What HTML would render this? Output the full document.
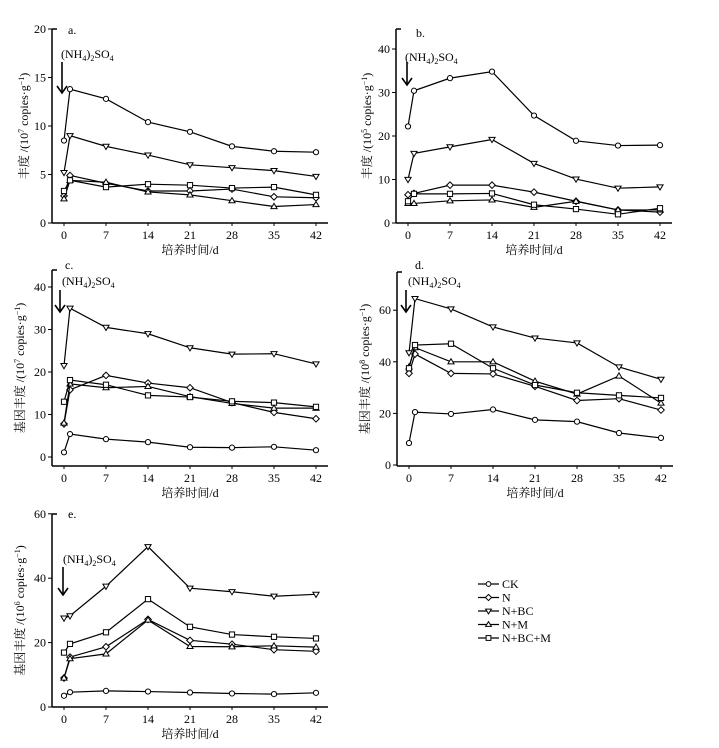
<!DOCTYPE html>
<html><head><meta charset="utf-8">
<style>
html,body{margin:0;padding:0;background:#fff;}
svg{display:block;font-family:"Liberation Serif","Noto Serif CJK SC",serif;}
</style></head>
<body>
<svg id="chart" width="719" height="748" viewBox="0 0 719 748" xmlns="http://www.w3.org/2000/svg"></svg>
<script>
const days = [0, 1, 7, 14, 21, 28, 35, 42];
const xTicks = [0, 7, 14, 21, 28, 35, 42];
const seriesNames = ['CK', 'N', 'N+BC', 'N+M', 'N+BC+M'];
const seriesMarkers = ['circle', 'diamond', 'down', 'up', 'square'];

const aTicks = [0, 5, 10, 15, 20];
const aCK = [8.5, 13.8, 12.8, 10.4, 9.4, 7.9, 7.4, 7.3];
const aN = [2.8, 4.9, 4.1, 3.3, 3.3, 3.5, 2.7, 2.6];
const aNBC = [5.2, 9.0, 7.9, 7.0, 6.0, 5.7, 5.4, 4.8];
const aNM = [2.5, 4.4, 4.2, 3.2, 2.9, 2.3, 1.7, 1.9];
const aNBCM = [3.3, 4.4, 3.7, 4.0, 3.9, 3.6, 3.7, 2.9];

const bTicks = [0, 10, 20, 30, 40];
const bCK = [22.2, 30.4, 33.3, 34.8, 24.7, 18.9, 17.8, 17.9];
const bN = [6.5, 6.8, 8.7, 8.7, 7.1, 5.0, 3.0, 2.5];
const bNBC = [10.0, 16.0, 17.5, 19.2, 13.7, 10.1, 8.0, 8.3];
const bNM = [4.5, 4.5, 5.1, 5.3, 3.6, 5.0, 3.0, 3.0];
const bNBCM = [5.0, 6.7, 6.7, 6.8, 4.2, 3.2, 2.0, 3.4];

const cTicks = [0, 10, 20, 30, 40];
const cCK = [1.1, 5.4, 4.2, 3.5, 2.3, 2.2, 2.4, 1.6];
const cN = [7.8, 15.8, 19.2, 17.4, 16.3, 12.8, 10.5, 9.0];
const cNBC = [21.5, 35.0, 30.5, 29.0, 25.7, 24.2, 24.3, 21.9];
const cNM = [8.0, 17.2, 16.3, 16.6, 14.2, 12.6, 11.5, 11.5];
const cNBCM = [13.0, 18.1, 17.0, 14.5, 14.1, 13.1, 12.8, 11.8];

const dTicks = [0, 20, 40, 60];
const dCK = [8.5, 20.5, 19.8, 21.5, 17.5, 16.8, 12.4, 10.5];
const dN = [35.5, 43.0, 35.5, 35.3, 30.5, 25.0, 25.7, 21.3];
const dNBC = [43.5, 64.5, 60.5, 53.5, 49.2, 47.3, 38.0, 33.2];
const dNM = [38.0, 45.5, 40.0, 40.0, 32.5, 27.5, 34.5, 24.0];
const dNBCM = [37.5, 46.5, 47.0, 37.5, 31.0, 28.0, 27.0, 26.0];

const eTicks = [0, 20, 40, 60];
const eCK = [3.5, 4.6, 5.0, 4.8, 4.5, 4.2, 4.0, 4.4];
const eN = [9.0, 15.5, 18.7, 27.2, 20.7, 19.5, 17.8, 17.3];
const eNBC = [27.6, 28.3, 37.5, 49.8, 36.9, 35.8, 34.4, 35.0];
const eNM = [9.0, 15.0, 16.5, 27.0, 18.8, 18.7, 19.0, 18.6];
const eNBCM = [16.9, 19.6, 23.2, 33.5, 24.9, 22.5, 21.8, 21.3];

const NS = 'http://www.w3.org/2000/svg';
const svg = document.getElementById('chart');
function mk(tag, attrs, parent) {
  const e = document.createElementNS(NS, tag);
  for (const k in attrs) e.setAttribute(k, attrs[k]);
  (parent || svg).appendChild(e);
  return e;
}
function marker(g, type, cx, cy, r) {
  let el;
  if (type === 'circle') el = mk('circle', {cx: cx, cy: cy, r: r}, g);
  else if (type === 'square') el = mk('rect', {x: cx - r, y: cy - r, width: 2 * r, height: 2 * r}, g);
  else if (type === 'diamond') el = mk('polygon', {points: `${cx},${cy - r - 0.7} ${cx + r + 0.7},${cy} ${cx},${cy + r + 0.7} ${cx - r - 0.7},${cy}`}, g);
  else if (type === 'up') el = mk('polygon', {points: `${cx},${cy - r - 0.5} ${cx + r + 0.5},${cy + r * 0.8} ${cx - r - 0.5},${cy + r * 0.8}`}, g);
  else el = mk('polygon', {points: `${cx - r - 0.5},${cy - r * 0.8} ${cx + r + 0.5},${cy - r * 0.8} ${cx},${cy + r + 0.5}`}, g);
  el.setAttribute('fill', '#fff');
  el.setAttribute('stroke', '#000');
  el.setAttribute('stroke-width', '1');
  return el;
}

function panel(p) {
  const g = mk('g', {});
  
  
  const xs = d => p.x0 + d * 6;
  const ys = v => p.y0 - v * p.k;
  const ya = mk('line', {x1: p.ax, y1: p.top, x2: p.ax, y2: p.axB, stroke: '#000', 'stroke-width': 1.5}, g);
  
  
  mk('line', {x1: p.ax, y1: p.top, x2: p.ax + 5, y2: p.top, stroke: '#000', 'stroke-width': 1.5}, g);
  const xa = mk('line', {x1: p.ax, y1: p.axB, x2: p.ax + 276, y2: p.axB, stroke: '#000', 'stroke-width': 1.5}, g);
  
  
  p.yt.forEach(v => {
    mk('line', {x1: p.ax - 4, y1: ys(v), x2: p.ax, y2: ys(v), stroke: '#000', 'stroke-width': 1}, g);
    const t = mk('text', {x: p.ax - 6, y: ys(v) + 4, 'text-anchor': 'end', 'font-size': 12}, g);
    t.textContent = v;
    
    
  });
  xTicks.forEach(d => {
    mk('line', {x1: xs(d), y1: p.axB, x2: xs(d), y2: p.axB + 3, stroke: '#000', 'stroke-width': 1}, g);
    const t = mk('text', {x: xs(d), y: p.axB + 16, 'text-anchor': 'middle', 'font-size': 12}, g);
    t.textContent = d;
    
    
  });
  const xl = mk('text', {x: p.ax + 138, y: p.axB + 31, 'text-anchor': 'middle', 'font-size': 12}, g);
  xl.textContent = '培养时间/d';
  
  
  const yc = (p.top + p.axB) / 2;
  const yl = mk('text', {x: p.ylx, y: yc, 'text-anchor': 'middle', 'font-size': 12, transform: `rotate(-90 ${p.ylx} ${yc})`}, g);
  yl.innerHTML = p.pre + ' /(10<tspan dy="-4" font-size="8">' + p.exp + '</tspan><tspan dy="4"> copies·g</tspan><tspan dy="-4" font-size="8">−1</tspan><tspan dy="4">)</tspan>';
  
  
  const lab = mk('text', {x: p.lx, y: p.ly, 'font-size': 12}, g);
  lab.textContent = p.id + '.';
  
  
  const ann = mk('text', {x: p.nx, y: p.ny, 'font-size': 12}, g);
  ann.innerHTML = '(NH<tspan dy="3" font-size="8">4</tspan><tspan dy="-3">)</tspan><tspan dy="3" font-size="8">2</tspan><tspan dy="-3">SO</tspan><tspan dy="3" font-size="8">4</tspan>';
  
  
  const ar = mk('g', {}, g);
  
  
  mk('line', {x1: p.arx, y1: p.ary1, x2: p.arx, y2: p.ary2, stroke: '#000', 'stroke-width': 1.6}, ar);
  mk('polyline', {points: `${p.arx - 5},${p.ary2 - 7} ${p.arx},${p.ary2} ${p.arx + 5},${p.ary2 - 7}`, fill: 'none', stroke: '#000', 'stroke-width': 1.6}, ar);
  p.series.forEach((vals, si) => {
    const sg = mk('g', {}, g);
    
    
    const pts = vals.map((v, i) => xs(days[i]) + ',' + ys(v)).join(' ');
    mk('polyline', {points: pts, fill: 'none', stroke: '#000', 'stroke-width': 1.2}, sg);
    vals.forEach((v, i) => {
      const m = marker(sg, seriesMarkers[si], xs(days[i]), ys(v), 2.6);
      
      
    });
  });
}

panel({id: 'a', x0: 64, ax: 52, y0: 223, k: 9.7, top: 29, axB: 223, yt: aTicks, ylx: 28, pre: '丰度', exp: '7',
  lx: 68, ly: 34, nx: 61, ny: 58, arx: 62, ary1: 62, ary2: 93, series: [aCK, aN, aNBC, aNM, aNBCM]});
panel({id: 'b', x0: 408, ax: 396, y0: 223, k: 4.35, top: 29, axB: 223, yt: bTicks, ylx: 371, pre: '丰度', exp: '5',
  lx: 416, ly: 37, nx: 405, ny: 61, arx: 407, ary1: 62, ary2: 85, series: [bCK, bN, bNBC, bNM, bNBCM]});
panel({id: 'c', x0: 64, ax: 52, y0: 457, k: 4.25, top: 270, axB: 466, yt: cTicks, ylx: 24, pre: '基因丰度', exp: '7',
  lx: 65, ly: 269, nx: 62, ny: 285, arx: 60, ary1: 290, ary2: 312, series: [cCK, cN, cNBC, cNM, cNBCM]});
panel({id: 'd', x0: 409, ax: 397, y0: 465, k: 2.58, top: 272, axB: 466, yt: dTicks, ylx: 369, pre: '基因丰度', exp: '8',
  lx: 415, ly: 269, nx: 408, ny: 285, arx: 406, ary1: 290, ary2: 312, series: [dCK, dN, dNBC, dNM, dNBCM]});
panel({id: 'e', x0: 64, ax: 52, y0: 707, k: 3.22, top: 514, axB: 707, yt: eTicks, ylx: 24, pre: '基因丰度', exp: '6',
  lx: 68, ly: 518, nx: 63, ny: 563, arx: 63, ary1: 567, ary2: 595, series: [eCK, eN, eNBC, eNM, eNBCM]});

const lg = mk('g', {});


seriesNames.forEach((n, i) => {
  const y = 584 + i * 13.5;
  const eg = mk('g', {}, lg);
  
  
  mk('line', {x1: 478, y1: y, x2: 499, y2: y, stroke: '#000', 'stroke-width': 1.2}, eg);
  marker(eg, seriesMarkers[i], 488.5, y, 2.4);
  const t = mk('text', {x: 502, y: y + 4, 'font-size': 12}, eg);
  t.textContent = n;
});
</script>
</body></html>
